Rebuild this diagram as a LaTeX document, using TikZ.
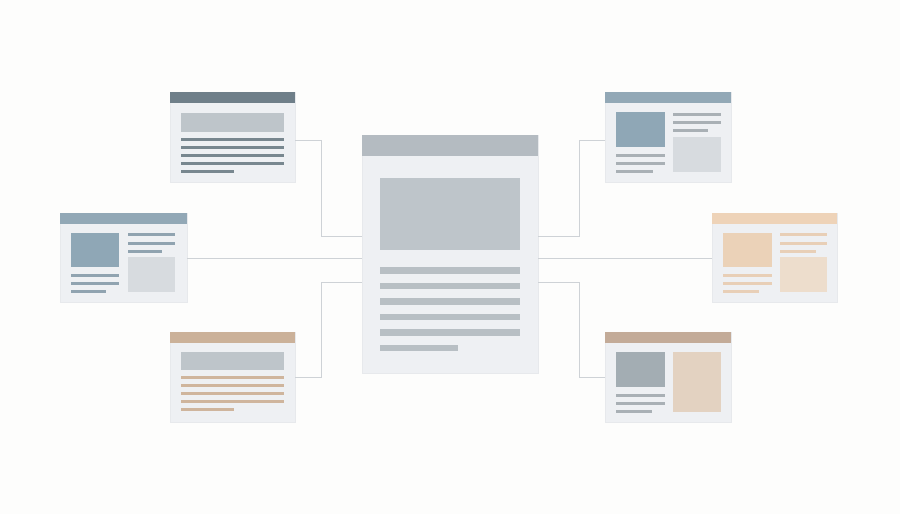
\documentclass[tikz,border=0pt]{standalone}
\usetikzlibrary{positioning}
\definecolor{bg}{HTML}{FDFDFC}
\definecolor{cardfill}{HTML}{EEF0F3}
\definecolor{cardedge}{HTML}{E7E9EC}
\definecolor{wire}{HTML}{CED2D6}
\definecolor{hdDark}{HTML}{6F7F89}
\definecolor{hdBlue}{HTML}{92A8B6}
\definecolor{hdBeige}{HTML}{CBB199}
\definecolor{hdMain}{HTML}{B4BBC1}
\definecolor{hdPeach}{HTML}{EED3B8}
\definecolor{hdTaupe}{HTML}{C3AB98}
\definecolor{imgGray}{HTML}{BEC5CA}
\definecolor{imgBlue}{HTML}{8FA7B6}
\definecolor{boxGray}{HTML}{D7DBDF}
\definecolor{imgPeach}{HTML}{EBD2B8}
\definecolor{boxPeach}{HTML}{EDDDCC}
\definecolor{imgSlate}{HTML}{A3ADB3}
\definecolor{boxTaupe}{HTML}{E3D2C1}
\definecolor{lnDark}{HTML}{78878F}
\definecolor{lnBlue}{HTML}{90A3B0}
\definecolor{lnBeige}{HTML}{CFB59D}
\definecolor{lnMain}{HTML}{B8BFC4}
\definecolor{lnGray}{HTML}{A9B0B5}
\definecolor{lnPeach}{HTML}{E8CFB7}
\tikzset{
  card/.style={fill=cardfill, draw=cardedge, line width=0.5pt, inner sep=0pt, outer sep=0pt, anchor=north west, rectangle},
  smallcard/.style={card, minimum width=125pt, minimum height=90pt},
  wireline/.style={draw=wire, line width=1pt},
}
\begin{document}
\begin{tikzpicture}[x=1pt,y=-1pt]
\fill[bg] (0,0) rectangle (900,514);
\useasboundingbox (0,0) rectangle (900,514);

% ---------- main card ----------
\node[card, minimum width=176pt, minimum height=238pt] (main) at (362,135) {};
\fill[hdMain] (362,135) rectangle (538,156);
\fill[imgGray] (380,178) rectangle (520,250);
\foreach \y in {267,282.5,298,313.5,329} \fill[lnMain] (380,\y) rectangle (520,\y+6.5);
\fill[lnMain] (380,344.5) rectangle (458,351);

% ---------- top-left card ----------
\node[smallcard] (tl) at (170,92) {};
\fill[hdDark] (170,92) rectangle (295,103);
\fill[imgGray] (181,113) rectangle (284,132);
\foreach \y in {139.5,147.5,155.5,163.5} \fill[lnDark] (181,\y-1.6) rectangle (284,\y+1.6);
\fill[lnDark] (181,169.9) rectangle (234,173.1);

% ---------- left-middle card ----------
\node[smallcard, minimum width=127pt, minimum height=89pt] (lm) at (60,213) {};
\fill[hdBlue] (60,213) rectangle (187,224);
\fill[imgBlue] (71,233) rectangle (119,267);
\fill[lnBlue] (128,232.5) rectangle (175,235.5);
\fill[lnBlue] (128,241.5) rectangle (175,244.5);
\fill[lnBlue] (128,249.5) rectangle (162,252.5);
\fill[boxGray] (128,257) rectangle (175,292);
\fill[lnBlue] (71,273.5) rectangle (119,276.5);
\fill[lnBlue] (71,281.5) rectangle (119,284.5);
\fill[lnBlue] (71,289.5) rectangle (106,292.5);

% ---------- bottom-left card ----------
\node[smallcard] (bl) at (170,332) {};
\fill[hdBeige] (170,332) rectangle (295,343);
\fill[imgGray] (181,352) rectangle (284,370);
\foreach \y in {377.3,385.3,393.3,401.3} \fill[lnBeige] (181,\y-1.6) rectangle (284,\y+1.6);
\fill[lnBeige] (181,407.7) rectangle (234,410.9);

% ---------- top-right card ----------
\node[smallcard, minimum width=126pt] (tr) at (605,92) {};
\fill[hdBlue] (605,92) rectangle (731,103);
\fill[imgBlue] (616,112) rectangle (665,147);
\fill[lnGray] (673,112.5) rectangle (721,115.5);
\fill[lnGray] (673,120.5) rectangle (721,123.5);
\fill[lnGray] (673,128.5) rectangle (708,131.5);
\fill[boxGray] (673,137) rectangle (721,172);
\fill[lnGray] (616,153.5) rectangle (665,156.5);
\fill[lnGray] (616,161.5) rectangle (665,164.5);
\fill[lnGray] (616,169.5) rectangle (653,172.5);

% ---------- right-middle card ----------
\node[smallcard, minimum width=125pt, minimum height=89pt] (rm) at (712,213) {};
\fill[hdPeach] (712,213) rectangle (837,224);
\fill[imgPeach] (723,233) rectangle (772,267);
\fill[lnPeach] (780,232.5) rectangle (827,235.5);
\fill[lnPeach] (780,241.5) rectangle (827,244.5);
\fill[lnPeach] (780,249.5) rectangle (816,252.5);
\fill[boxPeach] (780,257) rectangle (827,292);
\fill[lnPeach] (723,273.5) rectangle (772,276.5);
\fill[lnPeach] (723,281.5) rectangle (772,284.5);
\fill[lnPeach] (723,289.5) rectangle (759,292.5);

% ---------- bottom-right card ----------
\node[smallcard, minimum width=126pt] (br) at (605,332) {};
\fill[hdTaupe] (605,332) rectangle (731,343);
\fill[imgSlate] (616,352) rectangle (665,387);
\fill[boxTaupe] (673,352) rectangle (721,412);
\fill[lnGray] (616,393.5) rectangle (665,396.5);
\fill[lnGray] (616,401.5) rectangle (665,404.5);
\fill[lnGray] (616,409.5) rectangle (652,412.5);

% ---------- connectors ----------
\coordinate (kL) at (321,0);
\coordinate (kR) at (579,0);
\draw[wireline] (tl.east |- 0,140) -| (kL |- 0,236) -- (main.west |- 0,236);
\draw[wireline] (lm.east |- 0,258) -- (main.west |- 0,258);
\draw[wireline] (bl.east |- 0,377) -| (kL |- 0,282) -- (main.west |- 0,282);
\draw[wireline] (tr.west |- 0,140) -| (kR |- 0,236) -- (main.east |- 0,236);
\draw[wireline] (rm.west |- 0,258) -- (main.east |- 0,258);
\draw[wireline] (br.west |- 0,377) -| (kR |- 0,282) -- (main.east |- 0,282);
\end{tikzpicture}
\end{document}
